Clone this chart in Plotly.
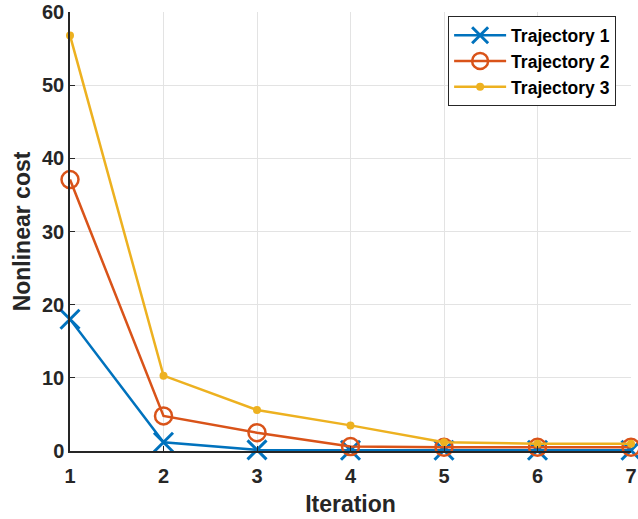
import plotly.graph_objects as go

iterations = [1, 2, 3, 4, 5, 6, 7]
traj1 = [18.0, 1.2, 0.15, 0.1, 0.1, 0.1, 0.1]
traj2 = [37.1, 4.8, 2.5, 0.6, 0.5, 0.5, 0.5]
traj3 = [56.8, 10.3, 5.6, 3.5, 1.2, 1.0, 1.0]
names = ["Trajectory 1", "Trajectory 2", "Trajectory 3"]

FONT = "Liberation Sans, Arial, Helvetica, sans-serif"
fig = go.Figure()
fig.add_trace(go.Scatter(x=iterations, y=traj1, name=names[0], mode="lines+markers", cliponaxis=False,
                         line=dict(color="#0072BD", width=2.5),
                         marker=dict(symbol="x-thin", size=19, line=dict(color="#0072BD", width=3))))
fig.add_trace(go.Scatter(x=iterations, y=traj2, name=names[1], mode="lines+markers", cliponaxis=False,
                         line=dict(color="#D95319", width=2.5),
                         marker=dict(symbol="circle-open", size=17, color="#D95319", line=dict(width=2.5))))
fig.add_trace(go.Scatter(x=iterations, y=traj3, name=names[2], mode="lines+markers", cliponaxis=False,
                         line=dict(color="#EDB120", width=2.5),
                         marker=dict(symbol="circle", size=8, color="#EDB120")))

fig.update_layout(
    width=638, height=519,
    margin=dict(l=70, r=1, t=12, b=68),
    plot_bgcolor="white", paper_bgcolor="white",
    font=dict(family=FONT, size=18, color="#262626"),
    showlegend=True,
    legend=dict(x=0.674, y=0.99, xanchor="left", yanchor="top",
                bordercolor="#262626", borderwidth=1, bgcolor="white",
                font=dict(family=FONT, size=17.5, color="black", weight="bold"),
                tracegroupgap=0, itemwidth=52),
    xaxis=dict(range=[1, 7], dtick=1, showgrid=True, gridcolor="#E3E3E3", gridwidth=1,
               showline=True, linecolor="#262626", linewidth=1.5,
               ticks="inside", ticklen=5, tickcolor="#262626", zeroline=False,
               ticklabeloverflow="allow", ticklabelstandoff=6,
               tickfont=dict(family=FONT, size=20, color="#262626", weight="bold"),
               title=dict(text="Iteration", font=dict(family=FONT, size=23, color="#262626", weight="bold"), standoff=10)),
    yaxis=dict(range=[0, 60], dtick=10, showgrid=True, gridcolor="#E3E3E3", gridwidth=1,
               showline=True, linecolor="#262626", linewidth=1.5,
               ticks="inside", ticklen=5, tickcolor="#262626", zeroline=False,
               tickfont=dict(family=FONT, size=20, color="#262626", weight="bold"),
               title=dict(text="Nonlinear cost", font=dict(family=FONT, size=23, color="#262626", weight="bold"), standoff=5)),
)
fig.write_html("out.html")
